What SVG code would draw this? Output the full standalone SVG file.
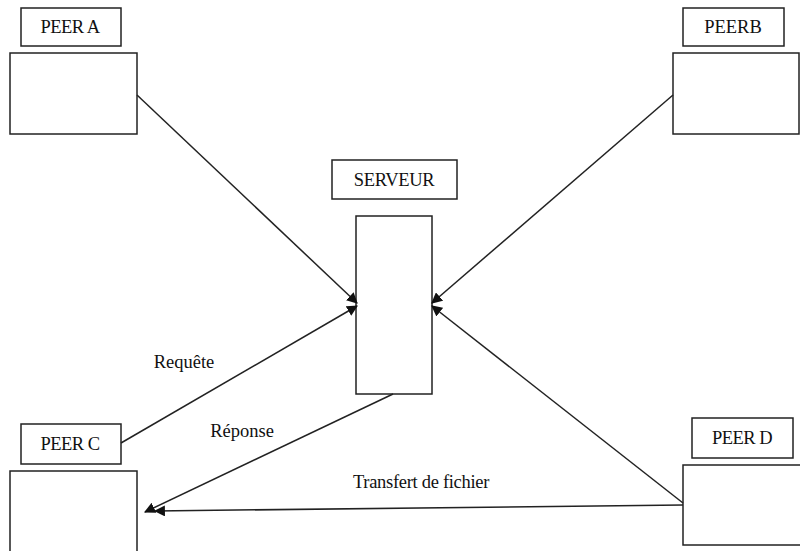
<svg xmlns="http://www.w3.org/2000/svg" width="800" height="551" viewBox="0 0 800 551">
  <style>
    .box { fill: #fff; stroke: #222; stroke-width: 1.5; }
    .lbl { font-family: "Liberation Serif", "Times New Roman", serif; font-size: 18.5px; fill: #111; text-anchor: middle; }
    .edge { fill: none; stroke: #222; stroke-width: 1.5; marker-end: url(#arrow); }
  </style>
  <defs>
    <marker id="arrow" viewBox="0 0 10 10" refX="9" refY="5" markerWidth="11" markerHeight="11" markerUnits="userSpaceOnUse" orient="auto">
      <path d="M0,0 L10,5 L0,10 z" fill="#111"/>
    </marker>
  </defs>
  <rect x="0" y="0" width="800" height="551" fill="#fff"/>

  <g id="peer-a">
    <rect class="box" x="21" y="8" width="100" height="38"/>
    <text class="lbl" x="70" y="33" letter-spacing="-0.5">PEER A</text>
    <rect class="box" x="10" y="53" width="127" height="81"/>
  </g>

  <g id="peer-b">
    <rect class="box" x="683" y="8" width="101" height="38"/>
    <text class="lbl" x="733" y="33">PEERB</text>
    <rect class="box" x="673" y="53" width="126" height="81"/>
  </g>

  <g id="serveur">
    <rect class="box" x="332" y="160" width="125" height="39"/>
    <text class="lbl" x="394" y="186" letter-spacing="-0.3">SERVEUR</text>
    <rect class="box" x="356" y="216" width="76" height="178"/>
  </g>

  <g id="peer-c">
    <rect class="box" x="21" y="424" width="100" height="40"/>
    <text class="lbl" x="70" y="450" letter-spacing="-0.5">PEER C</text>
    <rect class="box" x="10" y="471" width="127" height="82"/>
  </g>

  <g id="peer-d">
    <rect class="box" x="692" y="418" width="101" height="40"/>
    <text class="lbl" x="742" y="444" letter-spacing="-0.5">PEER D</text>
    <rect class="box" x="683" y="465" width="119" height="80"/>
  </g>

  <g id="connectors">
    <line class="edge" x1="137" y1="95" x2="357" y2="303"/>
    <line class="edge" x1="673" y1="95" x2="432" y2="303"/>
    <line class="edge" x1="121" y1="443" x2="357" y2="306"/>
    <line class="edge" x1="683" y1="503" x2="432" y2="306"/>
    <line class="edge" x1="393" y1="394" x2="145" y2="512"/>
    <line class="edge" x1="683" y1="505" x2="155" y2="511"/>
    <text class="lbl" x="184" y="368">Requête</text>
    <text class="lbl" x="242" y="437">Réponse</text>
    <text class="lbl" x="421" y="488" letter-spacing="-0.3">Transfert de fichier</text>
  </g>
</svg>
